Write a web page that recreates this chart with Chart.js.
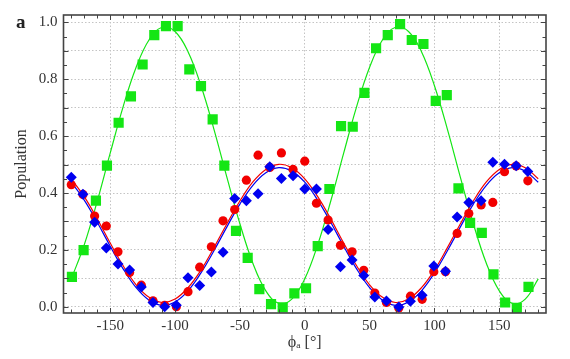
<!DOCTYPE html>
<html>
<head>
<meta charset="utf-8">
<script src="https://cdn.jsdelivr.net/npm/chart.js@4/dist/chart.umd.min.js"></script>
<style>
  html, body { margin: 0; padding: 0; background: #fff; }
  #wrap { width: 570px; height: 359px; }
</style>
</head>
<body>
<div id="wrap"><canvas id="chart"></canvas></div>
<script>
// measured phases (deg) for red / blue points
const phaseRB = [-180, -171, -162, -153, -144, -135, -126, -117, -108, -99,
  -90, -81, -72, -63, -54, -45, -36, -27, -18, -9,
  0, 9, 18, 27.5, 36.5, 45.5, 54, 63, 72.5, 81.5,
  90.5, 99.5, 108.5, 117.5, 126.5, 136, 145, 154, 163, 172];
const redPop = [0.429, 0.395, 0.319, 0.284, 0.193, 0.120, 0.076, 0.021, 0.005, 0.000,
  0.053, 0.139, 0.211, 0.302, 0.342, 0.445, 0.533, 0.490, 0.541, 0.483,
  0.512, 0.364, 0.305, 0.216, 0.193, 0.128, 0.048, 0.015, -0.004, 0.037,
  0.026, 0.123, 0.123, 0.258, 0.328, 0.358, 0.367, 0.475, 0.495, 0.443];
const bluePop = [0.455, 0.396, 0.297, 0.207, 0.150, 0.129, 0.069, 0.015, 0.000, 0.005,
  0.102, 0.075, 0.122, 0.192, 0.381, 0.373, 0.397, 0.492, 0.451, 0.461,
  0.414, 0.414, 0.272, 0.141, 0.164, 0.110, 0.034, 0.020, -0.001, 0.019,
  0.040, 0.143, 0.125, 0.316, 0.367, 0.373, 0.508, 0.501, 0.496, 0.476];

// green points
const phaseG = [-179.5, -170.5, -161, -152.5, -143.5, -134, -125, -116, -107, -98,
  -89, -80, -71, -62, -53, -44, -35, -26, -17, -8,
  1, 10, 19, 28, 37, 46, 55, 64, 73.5, 82.5,
  91.5, 101, 109.5, 118.5, 127.5, 136.5, 145.5, 154.5, 163.5, 172.5];
const greenPop = [0.105, 0.199, 0.373, 0.496, 0.647, 0.740, 0.852, 0.955, 0.987, 0.987,
  0.835, 0.776, 0.659, 0.496, 0.267, 0.172, 0.062, 0.009, -0.002, 0.047,
  0.065, 0.213, 0.414, 0.635, 0.633, 0.752, 0.909, 0.955, 0.994, 0.938,
  0.924, 0.724, 0.744, 0.416, 0.295, 0.260, 0.114, 0.015, -0.004, 0.070];

// fit curves every 10 deg
const fitPhase = [-180, -170, -160, -150, -140, -130, -120, -110, -100, -90,
  -80, -70, -60, -50, -40, -30, -20, -10, 0, 10,
  20, 30, 40, 50, 60, 70, 80, 90, 100, 110,
  120, 130, 140, 150, 160, 170, 180];
const greenFit = [0.098, 0.218, 0.371, 0.540, 0.704, 0.842, 0.939, 0.983, 0.968, 0.897,
  0.777, 0.624, 0.455, 0.292, 0.153, 0.056, 0.012, 0.027, 0.098, 0.218,
  0.371, 0.540, 0.704, 0.842, 0.939, 0.983, 0.968, 0.897, 0.777, 0.624,
  0.455, 0.292, 0.153, 0.056, 0.012, 0.027, 0.098];
const redFit = [0.450, 0.387, 0.309, 0.224, 0.144, 0.077, 0.033, 0.015, 0.027, 0.067,
  0.129, 0.208, 0.292, 0.372, 0.439, 0.483, 0.501, 0.489, 0.450, 0.387,
  0.309, 0.224, 0.144, 0.077, 0.033, 0.015, 0.027, 0.067, 0.129, 0.208,
  0.292, 0.372, 0.439, 0.483, 0.501, 0.489, 0.450];
const blueFit = [0.438, 0.375, 0.297, 0.213, 0.133, 0.067, 0.023, 0.005, 0.017, 0.056,
  0.119, 0.197, 0.281, 0.361, 0.427, 0.471, 0.489, 0.477, 0.438, 0.375,
  0.297, 0.213, 0.133, 0.067, 0.023, 0.005, 0.017, 0.056, 0.119, 0.197,
  0.281, 0.361, 0.427, 0.471, 0.489, 0.477, 0.438];

const GREEN = '#14e614';
const RED = '#f20000';
const BLUE = '#0000f0';
const SERIF = '"Liberation Serif", "DejaVu Serif", serif';

const pts = (xs, ys) => xs.map((x, i) => ({ x: x, y: ys[i] }));

// frame, inward ticks and panel letter
const framePlugin = {
  id: 'frame',
  afterDraw(chart) {
    const { ctx, chartArea: a, scales } = chart;
    const x = scales.x, y = scales.y;
    ctx.save();
    ctx.strokeStyle = '#444';
    ctx.lineWidth = 1;
    ctx.beginPath();
    for (let v = -180; v <= 180; v += 10) {
      const px = Math.round(x.getPixelForValue(v)) + 0.5;
      const len = v % 50 === 0 ? 5 : 3.5;
      ctx.moveTo(px, a.bottom); ctx.lineTo(px, a.bottom - len);
      ctx.moveTo(px, a.top); ctx.lineTo(px, a.top + len);
    }
    for (let k = 0; k <= 20; k++) {
      const py = Math.round(y.getPixelForValue(k * 0.05)) + 0.5;
      const len = k % 2 === 0 ? 5 : 3.5;
      ctx.moveTo(a.left, py); ctx.lineTo(a.left + len, py);
      ctx.moveTo(a.right, py); ctx.lineTo(a.right - len, py);
    }
    ctx.stroke();
    ctx.lineWidth = 1.6;
    ctx.strokeRect(a.left, a.top, a.right - a.left, a.bottom - a.top);
    ctx.fillStyle = '#222';
    ctx.font = 'bold 19px ' + SERIF;
    ctx.textBaseline = 'alphabetic';
    ctx.fillText('a', 16, 28);
    ctx.restore();
  }
};

new Chart(document.getElementById('chart'), {
  type: 'scatter',
  data: {
    datasets: [
      { label: 'blue', data: pts(phaseRB, bluePop), order: 1,
        pointStyle: 'rectRot', pointRadius: 5.5, backgroundColor: BLUE, borderColor: BLUE, borderWidth: 0 },
      { label: 'red', data: pts(phaseRB, redPop), order: 2,
        pointStyle: 'circle', pointRadius: 4.6, backgroundColor: RED, borderColor: RED, borderWidth: 0 },
      { label: 'green', data: pts(phaseG, greenPop), order: 3,
        pointStyle: 'rect', pointRadius: 7.2, backgroundColor: GREEN, borderColor: GREEN, borderWidth: 0 },
      { label: 'blue fit', data: pts(fitPhase, blueFit), order: 4, showLine: true,
        pointRadius: 0, borderColor: BLUE, borderWidth: 1.2, tension: 0.4 },
      { label: 'red fit', data: pts(fitPhase, redFit), order: 5, showLine: true,
        pointRadius: 0, borderColor: RED, borderWidth: 1.2, tension: 0.4 },
      { label: 'green fit', data: pts(fitPhase, greenFit), order: 6, showLine: true,
        pointRadius: 0, borderColor: GREEN, borderWidth: 1.2, tension: 0.4 }
    ]
  },
  options: {
    responsive: true,
    maintainAspectRatio: false,
    animation: false,
    layout: { padding: { top: 15, right: 24, left: 0, bottom: 0 } },
    plugins: {
      legend: { display: false },
      tooltip: { enabled: false }
    },
    scales: {
      x: {
        type: 'linear',
        min: -186,
        max: 186,
        afterFit: (s) => { s.height = 46; },
        grid: { color: '#c4c4c4', lineWidth: 1, drawTicks: false },
        border: { display: false, dash: [1.5, 2] },
        ticks: {
          stepSize: 50,
          includeBounds: false,
          padding: 4,
          color: '#333',
          font: { family: SERIF, size: 15 }
        },
        title: {
          display: true,
          text: 'ϕₐ [°]',
          color: '#333',
          font: { family: SERIF, size: 16 },
          padding: { top: 0, bottom: 7 }
        }
      },
      y: {
        min: -0.022,
        max: 1.026,
        afterFit: (s) => { s.width = 63.5; },
        grid: { color: '#c4c4c4', lineWidth: 1, drawTicks: false },
        border: { display: false, dash: [1.5, 2] },
        ticks: {
          stepSize: 0.1,
          includeBounds: false,
          padding: 6,
          color: '#333',
          font: { family: SERIF, size: 15 },
          callback: (v) => {
            const k = Math.round(v * 10);
            return k % 2 === 0 ? (k / 10).toFixed(1) : '';
          }
        },
        title: {
          display: true,
          text: 'Population',
          color: '#333',
          font: { family: SERIF, size: 16 },
          padding: { top: 12, bottom: 0 }
        }
      }
    }
  },
  plugins: [framePlugin]
});
</script>
</body>
</html>
